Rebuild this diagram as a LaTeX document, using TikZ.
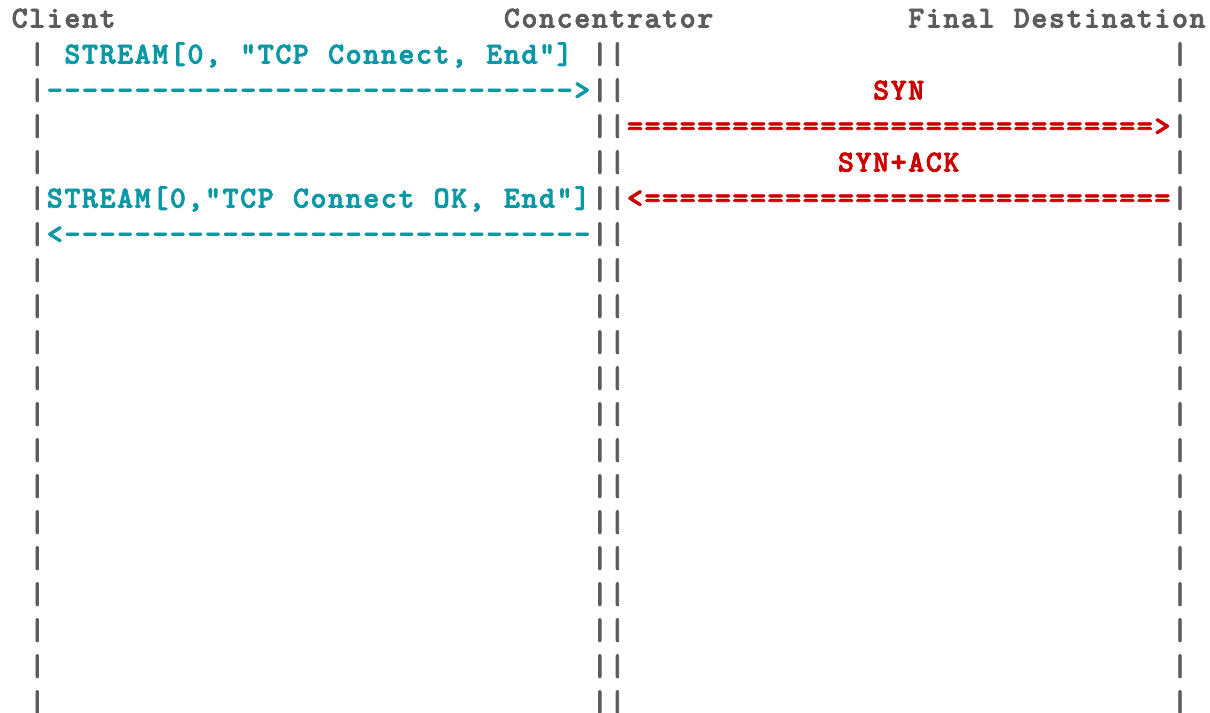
\documentclass[tikz,border=0pt]{standalone}
\usepackage{fontspec}
\newfontfamily\darkmono{lmmonolt10-bold.otf}[FakeBold=2.6]
\definecolor{inkc}{RGB}{92,92,92}
\definecolor{streamc}{RGB}{10,152,166}
\definecolor{tcpc}{RGB}{204,0,0}
% character grid: column width, left margin, line pitch, first baseline (px)
\def\cw{17.58}
\def\xo{10.9}
\def\lh{36}
\def\bo{27.5}
\newlength\gridw
\setlength\gridw{13.185pt}
% set a string one character per fixed-width cell
\ExplSyntaxOn
\NewDocumentCommand\grid{m}{ \str_map_inline:nn {#1} { \makebox[\gridw][c]{##1} } }
\ExplSyntaxOff
\tikzset{
  ch/.style={inner sep=0pt, outer sep=0pt, anchor=base west,
    font=\darkmono\fontsize{22.8pt}{24pt}\selectfont},
  hdr/.style={ch, text=inkc},
  life/.style={ch, text=inkc},
  stream/.style={ch, text=streamc},
  tcp/.style={ch, text=tcpc},
}
% position of column #1, row #2
\def\cell(#1,#2){({\xo+(#1)*\cw},{\bo+(#2)*\lh})}
\begin{document}
\begin{tikzpicture}[x=0.75pt,y=-0.75pt]
\useasboundingbox (0,0) rectangle (1210,713);
\clip (0,0) rectangle (1210,713);

% party names
\node[hdr] (client) at \cell(0,0) {\grid{Client}};
\node[hdr] (conc)   at \cell(28,0) {\grid{Concentrator}};
\node[hdr] (dest)   at \cell(51,0) {\grid{Final Destination}};

% lifelines
\foreach \r in {1,...,19} {
  \node[life] (cl-\r) at \cell(1,\r) {\grid{|}};
  \node[life] (ca-\r) at \cell(33,\r) {\grid{|}};
  \node[life] (cb-\r) at \cell(34,\r) {\grid{|}};
  \node[life] (fd-\r) at \cell(66,\r) {\grid{|}};
}

% client <-> concentrator stream messages
\node[stream] (req)     at \cell(3,1) {\grid{STREAM[0, "TCP Connect, End"]}};
\node[stream] (reqarr)  at \cell(2,2) {\grid{------------------------------>}};
\node[stream] (resp)    at \cell(2,5) {\grid{STREAM[0,"TCP Connect OK, End"]}};
\node[stream] (resparr) at \cell(2,6) {\grid{<------------------------------}};

% concentrator <-> destination TCP handshake
\node[tcp] (syn)       at \cell(49,2) {\grid{SYN}};
\node[tcp] (synarr)    at \cell(35,3) {\grid{==============================>}};
\node[tcp] (synack)    at \cell(47,4) {\grid{SYN+ACK}};
\node[tcp] (synackarr) at \cell(35,5) {\grid{<==============================}};
\end{tikzpicture}
\end{document}
